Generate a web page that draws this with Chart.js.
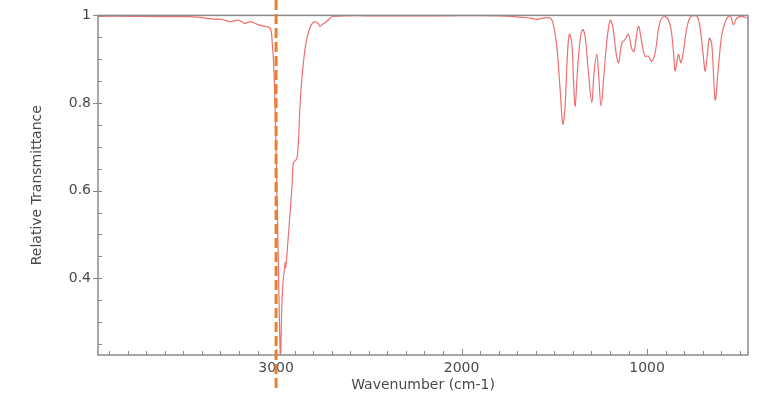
<!DOCTYPE html>
<html>
<head>
<meta charset="utf-8">
<script src="https://cdn.jsdelivr.net/npm/chart.js@4/dist/chart.umd.min.js"></script>
<style>
  html, body { margin: 0; padding: 0; background: #fff; }
</style>
</head>
<body>
<canvas id="spectrum" width="783" height="402"></canvas>
<script>
// IR spectrum, values
const wavenumber = [
  3960, 3787, 3625, 3464, 3340, 3286, 3248, 3205, 3167, 3140, 3097, 3059, 3032, 3022, 3011,
  3000, 2989, 2981, 2976, 2969, 2961, 2954, 2951, 2948, 2935, 2915, 2907, 2898, 2888, 2881,
  2871, 2861, 2844, 2827, 2808, 2790, 2774, 2763, 2752, 2727, 2693, 2439, 2116, 1792, 1631,
  1595, 1561, 1523, 1507, 1487, 1469, 1454, 1442, 1430, 1419, 1406, 1397, 1388, 1376, 1361,
  1347, 1334, 1316, 1298, 1286, 1271, 1262, 1248, 1232, 1214, 1199, 1185, 1167, 1154, 1136,
  1119, 1101, 1082, 1070, 1047, 1028, 1011, 993, 975, 957, 930, 903, 876, 858, 849,
  831, 818, 804, 786, 764, 732, 714, 696, 687, 675, 664, 651, 633, 616, 597,
  574, 552, 534, 516, 489, 462
];
const transmittance = [
  0.998, 0.998, 0.997, 0.997, 0.992, 0.990, 0.986, 0.989, 0.982, 0.986, 0.979, 0.975, 0.971, 0.945, 0.868,
  0.691, 0.464, 0.282, 0.218, 0.339, 0.400, 0.423, 0.436, 0.425, 0.491, 0.605, 0.664, 0.668, 0.673, 0.702,
  0.793, 0.855, 0.923, 0.959, 0.980, 0.986, 0.982, 0.975, 0.979, 0.986, 0.998, 0.999, 0.999, 0.999, 0.994,
  0.991, 0.994, 0.994, 0.982, 0.930, 0.832, 0.752, 0.793, 0.907, 0.957, 0.937, 0.855, 0.793, 0.869, 0.945,
  0.968, 0.952, 0.869, 0.801, 0.869, 0.911, 0.869, 0.793, 0.869, 0.952, 0.989, 0.975, 0.914, 0.892, 0.937,
  0.945, 0.957, 0.923, 0.918, 0.975, 0.937, 0.907, 0.907, 0.895, 0.914, 0.986, 0.998, 0.979, 0.918, 0.873,
  0.911, 0.892, 0.918, 0.971, 0.998, 0.999, 0.971, 0.903, 0.873, 0.911, 0.948, 0.933, 0.807, 0.880, 0.956,
  0.990, 0.999, 0.979, 0.994, 0.998, 0.994
];

// axes
const xRange = [456, 3960];
const yRange = [0.225, 1.0];
const xTicks = [500, 600, 700, 800, 900, 1000, 1100, 1200, 1300, 1400, 1500, 1600, 1700, 1800, 1900,
  2000, 2100, 2200, 2300, 2400, 2500, 2600, 2700, 2800, 2900, 3000, 3100, 3200, 3300, 3400,
  3500, 3600, 3700, 3800, 3900];
const xLabelled = [1000, 2000, 3000];
const yTicks = [0.25, 0.3, 0.35, 0.4, 0.45, 0.5, 0.55, 0.6, 0.65, 0.7, 0.75, 0.8, 0.85, 0.9, 0.95, 1.0];
const yLabelled = [0.4, 0.6, 0.8, 1.0];
const markerWavenumber = 3000;

const axisGrey = '#8a8a8a';
const textGrey = '#4a4a4a';

function inList(v, list){ return list.some(u => Math.abs(u - v) < 1e-6); }

// frame, tick marks and the dashed marker line
const framePlugin = {
  id: 'frame',
  afterDraw(chart){
    const ctx = chart.ctx;
    const a = chart.chartArea;
    const xs = chart.scales.x, ys = chart.scales.y;
    ctx.save();
    ctx.strokeStyle = axisGrey;
    ctx.lineWidth = 1.5;
    ctx.strokeRect(a.left, a.top, a.right - a.left, a.bottom - a.top);

    ctx.lineWidth = 1;
    ctx.beginPath();
    xs.ticks.forEach(t => {
      const px = Math.round(xs.getPixelForValue(t.value)) + 0.5;
      const len = inList(t.value, xLabelled) ? 6 : 4;
      ctx.moveTo(px, a.bottom);
      ctx.lineTo(px, a.bottom - len);
    });
    ys.ticks.forEach(t => {
      const py = Math.round(ys.getPixelForValue(t.value)) + 0.5;
      if (inList(t.value, yLabelled)) {
        ctx.moveTo(a.left - 5, py);
        ctx.lineTo(a.left + 4, py);
      } else {
        ctx.moveTo(a.left, py);
        ctx.lineTo(a.left + 4, py);
      }
    });
    ctx.stroke();

    const mx = xs.getPixelForValue(markerWavenumber);
    ctx.strokeStyle = '#e8802e';
    ctx.lineWidth = 3;
    ctx.setLineDash([10, 4]);
    ctx.beginPath();
    ctx.moveTo(mx, 0);
    ctx.lineTo(mx, chart.height - 10);
    ctx.stroke();
    ctx.restore();
  }
};

new Chart(document.getElementById('spectrum').getContext('2d'), {
  type: 'line',
  data: {
    datasets: [{
      label: 'Spectrum',
      data: wavenumber.map((w, i) => ({ x: w, y: transmittance[i] })),
      borderColor: '#ef6f6f',
      borderWidth: 1.2,
      pointRadius: 0,
      tension: 0.35,
      fill: false
    }]
  },
  options: {
    responsive: false,
    animation: false,
    devicePixelRatio: 1,
    layout: { padding: { left: 0, right: 35, top: 14, bottom: 0 } },
    plugins: { legend: { display: false }, tooltip: { enabled: false } },
    scales: {
      x: {
        type: 'linear',
        reverse: true,
        min: xRange[0],
        max: xRange[1],
        afterBuildTicks: s => { s.ticks = xTicks.map(v => ({ value: v })); },
        afterFit: s => { s.height = 47; },
        grid: { display: false, drawTicks: false },
        border: { display: false },
        ticks: {
          autoSkip: false,
          maxRotation: 0,
          padding: 5,
          color: textGrey,
          font: { family: 'DejaVu Sans', size: 14 },
          callback: v => inList(v, xLabelled) ? String(v) : ''
        },
        title: {
          display: true,
          text: 'Wavenumber (cm-1)',
          color: textGrey,
          font: { family: 'DejaVu Sans', size: 14 },
          padding: { top: 0, bottom: 8 }
        }
      },
      y: {
        min: yRange[0],
        max: yRange[1],
        afterBuildTicks: s => { s.ticks = yTicks.map(v => ({ value: v })); },
        afterFit: s => { s.width = 98; },
        grid: { display: false, drawTicks: false },
        border: { display: false },
        ticks: {
          autoSkip: false,
          padding: 7,
          color: textGrey,
          font: { family: 'DejaVu Sans', size: 14 },
          callback: v => inList(v, yLabelled) ? String(+v.toFixed(1)) : ''
        },
        title: {
          display: true,
          text: 'Relative Transmittance',
          color: textGrey,
          font: { family: 'DejaVu Sans', size: 14 },
          padding: { top: 29, bottom: 0 }
        }
      }
    }
  },
  plugins: [framePlugin]
});
</script>
</body>
</html>
